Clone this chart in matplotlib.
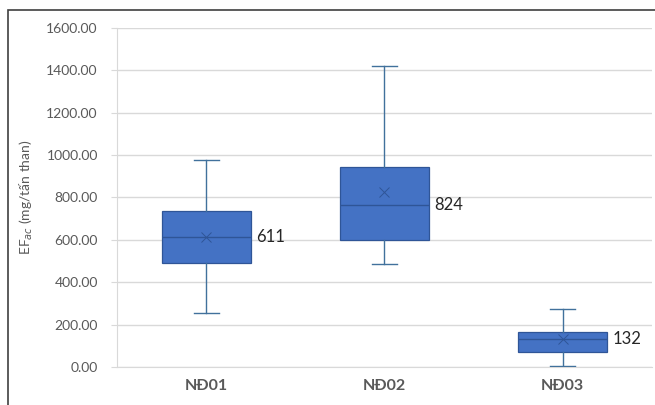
import matplotlib
matplotlib.use("Agg")
import matplotlib.pyplot as plt
from matplotlib.patches import Rectangle

plt.rcParams["font.family"] = ["Lato", "DejaVu Sans"]

# box statistics (mg/tấn than)
categories = ["NĐ01", "NĐ02", "NĐ03"]
whisker_low = [255, 486, 5]
q1 = [491, 600, 72]
median = [615, 765, 130]
q3 = [736, 945, 167]
whisker_high = [977, 1420, 274]
mean = [611, 824, 132]
mean_labels = ["611", "824", "132"]

box_face = "#4472C4"
line_col = "#2F5597"
text_col = "#595959"

stats = []
for i, name in enumerate(categories):
    stats.append(dict(label=name, whislo=whisker_low[i], q1=q1[i], med=median[i],
                      q3=q3[i], whishi=whisker_high[i], mean=mean[i], fliers=[]))

fig = plt.figure(figsize=(6.55, 4.05), dpi=100)
ax = fig.add_axes([0.179, 0.094, 0.816, 0.837])

pos = list(range(1, len(categories) + 1))
ax.bxp(stats, positions=pos, widths=0.5, showmeans=True, patch_artist=True,
       capwidths=0.14,
       boxprops=dict(facecolor=box_face, edgecolor=line_col, linewidth=0.9),
       whiskerprops=dict(color="#41719C", linewidth=1.0),
       capprops=dict(color="#41719C", linewidth=1.0),
       medianprops=dict(color="#2F5597", linewidth=1.0),
       meanprops=dict(marker="x", markeredgecolor="#2F5597", markersize=7,
                      markeredgewidth=0.7),
       zorder=3)

# the value labels sit level with the median line
for p, m, lab in zip(pos, median, mean_labels):
    ax.annotate(lab, xy=(p + 0.25, m), xytext=(4, 0), textcoords="offset points",
                ha="left", va="center", fontsize=12, color="#262626")

ax.set_xlim(0.5, len(categories) + 0.5)
ax.set_ylim(0, 1600)
ax.set_yticks(range(0, 1601, 200))
ax.set_yticklabels([f"{v:.2f}" for v in range(0, 1601, 200)])
ax.set_xticks(pos)
ax.set_xticklabels(categories, fontweight="bold", fontsize=11.5, color=text_col)
ax.tick_params(axis="y", labelsize=10, labelcolor=text_col, color="#D9D9D9",
               length=4, pad=10)
ax.tick_params(axis="x", length=0, pad=9)
ax.grid(axis="y", color="#D9D9D9", linewidth=1.0, zorder=0)
ax.set_axisbelow(True)
for s in ["top", "right"]:
    ax.spines[s].set_visible(False)
ax.spines["left"].set_color("#D9D9D9")
ax.spines["bottom"].set_color("#D9D9D9")

ax.set_ylabel("EF$_{ac}$ (mg/tấn than)", fontsize=10, color=text_col, labelpad=8)

# outer frame of the chart area
fig.patches.append(Rectangle((8 / 655, -0.1), 1.1, 1.1 - 10 / 405,
                             transform=fig.transFigure, fill=False,
                             edgecolor="#404040", linewidth=1.2))

fig.savefig("out.png", dpi=100)
